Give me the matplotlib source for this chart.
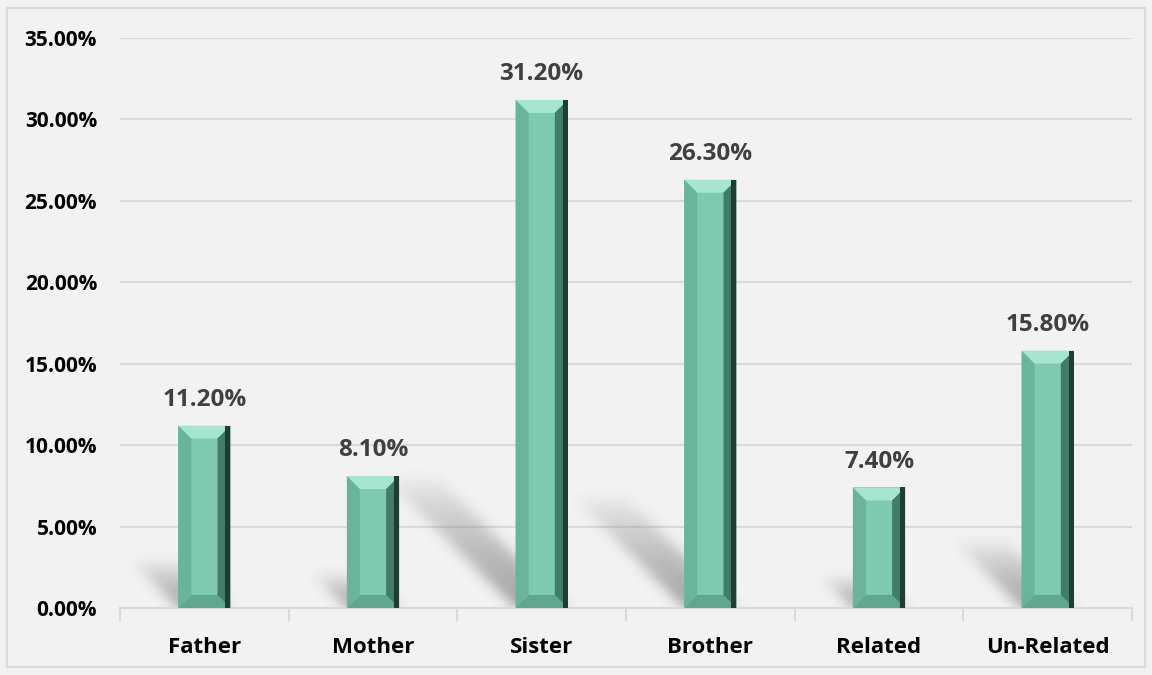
import numpy as np
import matplotlib
matplotlib.use("Agg")
import matplotlib.pyplot as plt
from matplotlib.patches import Polygon, Rectangle
from matplotlib.ticker import FuncFormatter

plt.rcParams['font.family'] = ['Open Sans', 'DejaVu Sans']

categories = ['Father', 'Mother', 'Sister', 'Brother', 'Related', 'Un-Related']
shares = [0.112, 0.081, 0.312, 0.263, 0.074, 0.158]
y_ticks = [0.0, 0.05, 0.10, 0.15, 0.20, 0.25, 0.30, 0.35]

bg = '#f2f2f2'
grid_col = '#d9d9d9'
face = '#7ecab0'

fig = plt.figure(figsize=(11.52, 6.75), dpi=100, facecolor=bg)
fig.patches.append(Rectangle((7 / 1152, 8 / 675), 1138 / 1152, 659 / 675,
                             transform=fig.transFigure, fill=False,
                             edgecolor=grid_col, linewidth=1.5))
ax = fig.add_axes([120 / 1152, 1 - 608 / 675, 1012 / 1152, 570 / 675])
ax.set_facecolor(bg)

n = len(categories)
ax.set_xlim(-0.5, n - 0.5)
ax.set_ylim(0, 0.35)
W, H = 1012, 570
px_x = n / W          # data units per pixel, x
px_y = 0.35 / H       # data units per pixel, y
width = 0.31

# soft floor shadows cast up-left behind each bar
xs = np.arange(W) + 0.5
ys = np.arange(H) + 0.5
gx, gy = np.meshgrid(xs, ys)
shade = np.zeros((H, W))
hw = width / 2 / px_x
for i, v in enumerate(shares):
    cx = (i + 0.5) * W / n
    L = 0.26 * v / px_y
    back = gx + gy
    inside = (np.abs(back - cx) <= hw) & (gy <= L)
    val = np.clip(1 - gy / L, 0, 1) ** 0.7
    shade = np.maximum(shade, np.where(inside, val, 0))
k = np.exp(-0.5 * (np.arange(-18, 19) / 6.0) ** 2)
k /= k.sum()
shade = np.apply_along_axis(lambda r: np.convolve(r, k, mode='same'), 1, shade)
shade = np.apply_along_axis(lambda c: np.convolve(c, k, mode='same'), 0, shade)
rgba = np.zeros((H, W, 4))
rgba[..., :3] = 0.45
rgba[..., 3] = shade * 0.62
ax.imshow(rgba, extent=[-0.5, n - 0.5, 0, 0.35], origin='lower',
          aspect='auto', zorder=1, interpolation='bilinear')

# bevelled bars
bars = ax.bar(range(n), shares, width=width, color=face, zorder=2, linewidth=0)
bx, by = 13 * px_x, 13 * px_y
for rect, v in zip(bars, shares):
    x0 = rect.get_x()
    x1 = x0 + rect.get_width()
    top = v
    pieces = [
        ([(x0, top), (x1, top), (x1 - bx, top - by), (x0 + bx, top - by)], '#a6e6cf'),
        ([(x0, 0), (x1, 0), (x1 - bx, by), (x0 + bx, by)], '#5fa890'),
        ([(x0, 0), (x0 + bx, by), (x0 + bx, top - by), (x0, top)], '#68b59b'),
        ([(x1, 0), (x1 - bx, by), (x1 - bx, top - by), (x1, top)], '#3f7c69'),
    ]
    for pts, c in pieces:
        ax.add_patch(Polygon(pts, closed=True, facecolor=c, edgecolor='none', zorder=3))
    ax.add_patch(Polygon([(x1 - bx * 0.4, 0), (x1, 0), (x1, top), (x1 - bx * 0.4, top)],
                         closed=True, facecolor='#1f3d33', edgecolor='none', zorder=3))
    ax.text(rect.get_x() + rect.get_width() / 2, v + 0.0085, f'{v * 100:.2f}%',
            ha='center', va='bottom', fontsize=17.5, fontweight='bold', color='#404040',
            zorder=4)

ax.set_yticks(y_ticks)
ax.yaxis.set_major_formatter(FuncFormatter(lambda y, _: f'{y * 100:.2f}%'))
ax.grid(axis='y', color=grid_col, linewidth=1.5, zorder=0)
ax.set_axisbelow(True)
ax.set_xticks(range(n))
ax.set_xticklabels(categories)
ax.set_xticks(np.arange(-0.5, n, 1.0), minor=True)
ax.tick_params(axis='x', which='major', length=0, pad=21, labelsize=16)
ax.tick_params(axis='x', which='minor', length=9, color=grid_col, width=1.5)
ax.tick_params(axis='y', length=0, pad=16.5, labelsize=15)
for lab in ax.get_xticklabels() + ax.get_yticklabels():
    lab.set_fontweight('bold')
for s in ['left', 'right', 'top']:
    ax.spines[s].set_visible(False)
ax.spines['bottom'].set_color(grid_col)
ax.spines['bottom'].set_linewidth(1.5)

fig.savefig('out.png', dpi=100, facecolor=bg)
